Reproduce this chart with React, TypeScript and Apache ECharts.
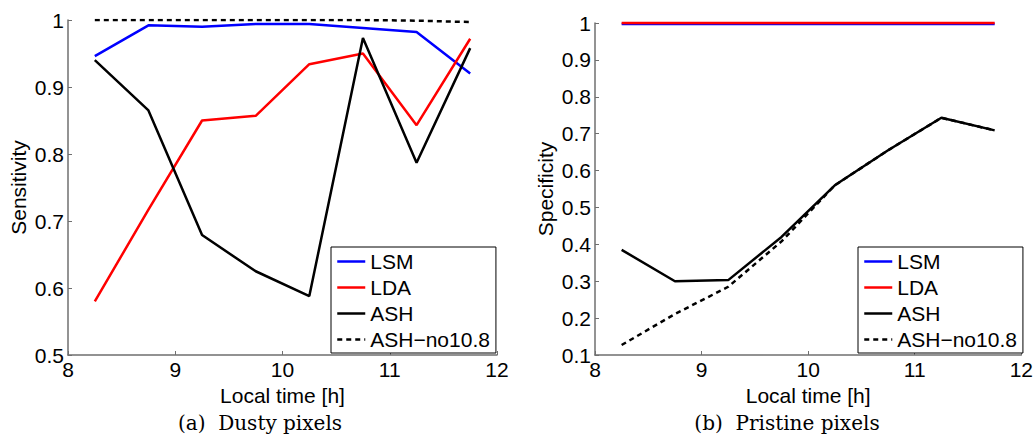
import React, { useEffect, useRef } from "react";
import * as echarts from "echarts";

const hours = [8.25, 8.75, 9.25, 9.75, 10.25, 10.75, 11.25, 11.75];
const seriesNames = ["LSM", "LDA", "ASH", "ASH\u2212no10.8"];

// (a) Dusty pixels – sensitivity
const lsmSens = [0.946, 0.992, 0.99, 0.994, 0.994, 0.988, 0.982, 0.92];
const ldaSens = [0.58, 0.717, 0.85, 0.857, 0.934, 0.95, 0.843, 0.972];
const ashSens = [0.94, 0.865, 0.679, 0.625, 0.588, 0.973, 0.787, 0.958];
const ashNoSens = [1, 1, 1, 1, 1, 1, 0.999, 0.997];

// (b) Pristine pixels – specificity
const lsmSpec = [0.997, 0.997, 0.997, 0.997, 0.997, 0.997, 0.997, 0.997];
const ldaSpec = [1, 1, 1, 1, 1, 1, 1, 1];
const ashSpec = [0.385, 0.3, 0.303, 0.42, 0.56, 0.655, 0.743, 0.709];
const ashNoSpec = [0.127, 0.211, 0.285, 0.408, 0.56, 0.655, 0.743, 0.709];

const FONT = "Liberation Sans";
const FS = 21;
const AXIS_GRAY = "#6f6f6f";

const styles = [
  { color: "#0000ff", type: "solid" as any },
  { color: "#ff0000", type: "solid" as any },
  { color: "#000000", type: "solid" as any },
  { color: "#000000", type: [5, 4] as any },
];

function pairs(ys: number[]) {
  return hours.map((h, i) => [h, ys[i]]);
}

function makeX(gridIndex: number) {
  return {
    type: "value",
    gridIndex,
    min: 8,
    max: 12,
    interval: 1,
    name: "Local time [h]",
    nameLocation: "middle",
    nameGap: 23,
    nameTextStyle: { fontSize: FS, color: "#000", fontFamily: FONT },
    axisLine: { show: true, lineStyle: { color: AXIS_GRAY, width: 1.5 } },
    axisTick: { show: true, inside: true, length: 4, lineStyle: { color: AXIS_GRAY, width: 1 } },
    axisLabel: { fontSize: FS, color: "#000", fontFamily: FONT, margin: 4 },
    splitLine: { show: false },
  };
}

function makeY(gridIndex: number, min: number, name: string) {
  return {
    type: "value",
    gridIndex,
    min,
    max: 1,
    interval: 0.1,
    name,
    nameLocation: "middle",
    nameGap: 39,
    nameTextStyle: { fontSize: FS, color: "#000", fontFamily: FONT },
    axisLine: { show: true, lineStyle: { color: AXIS_GRAY, width: 1.5 } },
    axisTick: { show: true, inside: true, length: 4, lineStyle: { color: AXIS_GRAY, width: 1 } },
    axisLabel: {
      fontSize: FS,
      color: "#000",
      fontFamily: FONT,
      margin: 4,
      formatter: (v: number) => String(+v.toFixed(1)),
    },
    splitLine: { show: false },
  };
}

function makeSeries(gridIndex: number, sets: number[][], clip: boolean) {
  return sets.map((ys, i) => ({
    type: "line",
    name: seriesNames[i],
    xAxisIndex: gridIndex,
    yAxisIndex: gridIndex,
    data: pairs(ys),
    symbol: "none",
    clip,
    lineStyle: { color: styles[i].color, width: 2.5, type: styles[i].type },
    itemStyle: { color: styles[i].color },
  }));
}

function makeLegend(left: number) {
  return {
    orient: "vertical",
    left,
    top: 247,
    data: seriesNames,
    itemWidth: 28,
    itemHeight: 20,
    itemGap: 5,
    padding: [4, 6, 3, 5],
    borderColor: "#000",
    borderWidth: 1,
    backgroundColor: "#fff",
    selectedMode: false,
    itemStyle: { opacity: 0 },
    lineStyle: { width: 2.5 },
    textStyle: { fontSize: FS, color: "#000", fontFamily: FONT, lineHeight: 20 },
  };
}

export default function App() {
  const ref = useRef<HTMLDivElement>(null);
  useEffect(() => {
    if (!ref.current) return;
    const chart = echarts.init(ref.current, undefined, { renderer: "svg" });
    chart.setOption({
      animation: false,
      backgroundColor: "#fff",
      grid: [
        { left: 68, top: 20, width: 429, height: 335 },
        { left: 595, top: 23, width: 428, height: 332 },
      ],
      xAxis: [makeX(0), makeX(1)],
      yAxis: [makeY(0, 0.5, "Sensitivity"), makeY(1, 0.1, "Specificity")],
      legend: [makeLegend(331), makeLegend(858)],
      series: [
        ...makeSeries(0, [lsmSens, ldaSens, ashSens, ashNoSens], true),
        ...makeSeries(1, [lsmSpec, ldaSpec, ashSpec, ashNoSpec], false),
      ],
      graphic: [
        {
          type: "text",
          x: 260,
          y: 423,
          style: {
            text: "(a)  Dusty pixels",
            font: "20px 'DejaVu Serif'",
            fill: "#000",
            align: "center",
            verticalAlign: "middle",
          },
        },
        {
          type: "text",
          x: 787,
          y: 423,
          style: {
            text: "(b)  Pristine pixels",
            font: "20px 'DejaVu Serif'",
            fill: "#000",
            align: "center",
            verticalAlign: "middle",
          },
        },
      ],
    });
    return () => chart.dispose();
  }, []);
  return (
    <div
      ref={ref}
      style={{ position: "absolute", left: 0, top: 0, width: 1036, height: 444 }}
    />
  );
}
